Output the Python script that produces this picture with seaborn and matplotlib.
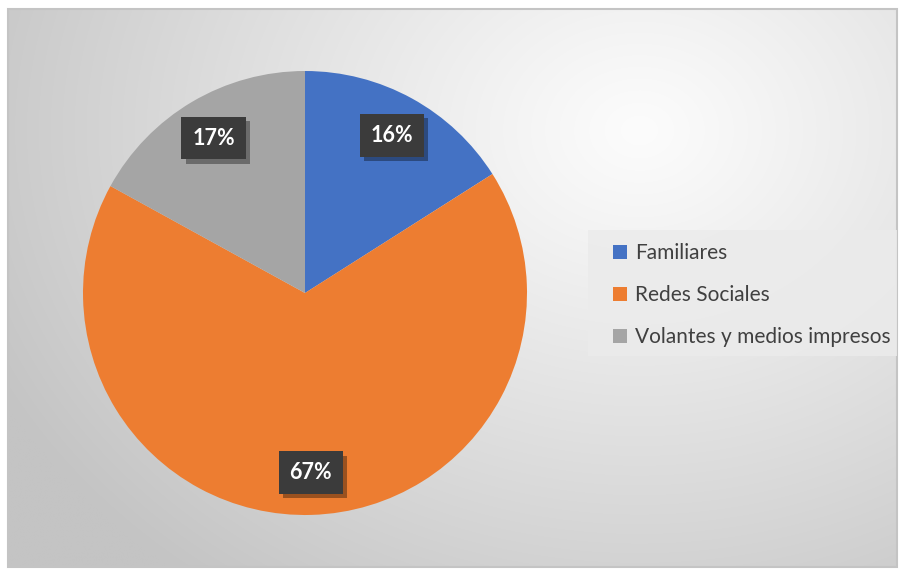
import numpy as np
import matplotlib
matplotlib.use("Agg")
import matplotlib.pyplot as plt
import matplotlib.patheffects as pe
from matplotlib.patches import Rectangle
import seaborn as sns

categories = ["Familiares", "Redes Sociales", "Volantes y medios impresos"]
shares = [16, 67, 17]
colors = ["#4472C4", "#ED7D31", "#A5A5A5"]

sns.set_style("white")
plt.rcParams["font.family"] = ["Lato", "DejaVu Sans"]
palette = sns.color_palette(colors)

W, H = 900, 576
fig = plt.figure(figsize=(W / 100, H / 100), dpi=100)
fig.patch.set_facecolor("white")

# background panel with a soft radial gradient
bg = fig.add_axes([0, 0, 1, 1])
bg.set_xlim(0, W)
bg.set_ylim(H, 0)
bg.axis("off")
x0, x1, y0, y1 = 8, 897, 9, 567
xs = np.linspace(x0, x1, 400)
ys = np.linspace(y0, y1, 260)
X, Y = np.meshgrid(xs, ys)
d = np.sqrt(((X - 640) / 1.0) ** 2 + ((Y - 130) / 0.8) ** 2)
v = 252 - 56 * np.clip(d / 720, 0, 1) ** 1.1
img = np.dstack([v, v, v]) / 255.0
bg.imshow(img, extent=[x0, x1, y1, y0], aspect="auto", interpolation="bilinear", zorder=0)
bg.add_patch(Rectangle((x0, y0), x1 - x0, y1 - y0, fill=False, edgecolor="#c4c4c4", lw=1.5, zorder=1))
# legend panel
bg.add_patch(Rectangle((588, 230), 309, 126, facecolor="#ebebeb", edgecolor="none", alpha=0.85, zorder=1))

# pie
cx, cy, r = 305, 293, 222
ax = fig.add_axes([(cx - r) / W, (H - cy - r) / H, 2 * r / W, 2 * r / H])
ax.set_facecolor("none")
wedges, texts, autotexts = ax.pie(
    shares,
    colors=palette,
    startangle=90,
    counterclock=False,
    radius=1.0,
    autopct=lambda p: f"{p:.0f}%",
    pctdistance=0.81,
    wedgeprops=dict(edgecolor="none"),
    textprops=dict(color="white", fontsize=15.5, fontweight="bold"),
)
ax.set_xlim(-1, 1)
ax.set_ylim(-1, 1)
ax.set_aspect("equal")
ax.axis("off")
for t in autotexts:
    t.set_bbox(dict(boxstyle="square,pad=0.5", facecolor="#3b3b3b", edgecolor="none"))
    t.get_bbox_patch().set_path_effects(
        [pe.SimplePatchShadow(offset=(3, -3), shadow_rgbFace="black", alpha=0.35), pe.Normal()]
    )

# legend
leg = fig.legend(
    wedges,
    categories,
    loc="center left",
    bbox_to_anchor=(613 / W, 1 - 295 / H),
    borderaxespad=0,
    frameon=False,
    fontsize=15,
    labelcolor="#404040",
    handlelength=0.65,
    handleheight=0.65,
    handletextpad=0.4,
    labelspacing=1.05,
    borderpad=0,
)

fig.savefig("out.png", dpi=100, facecolor="white")
